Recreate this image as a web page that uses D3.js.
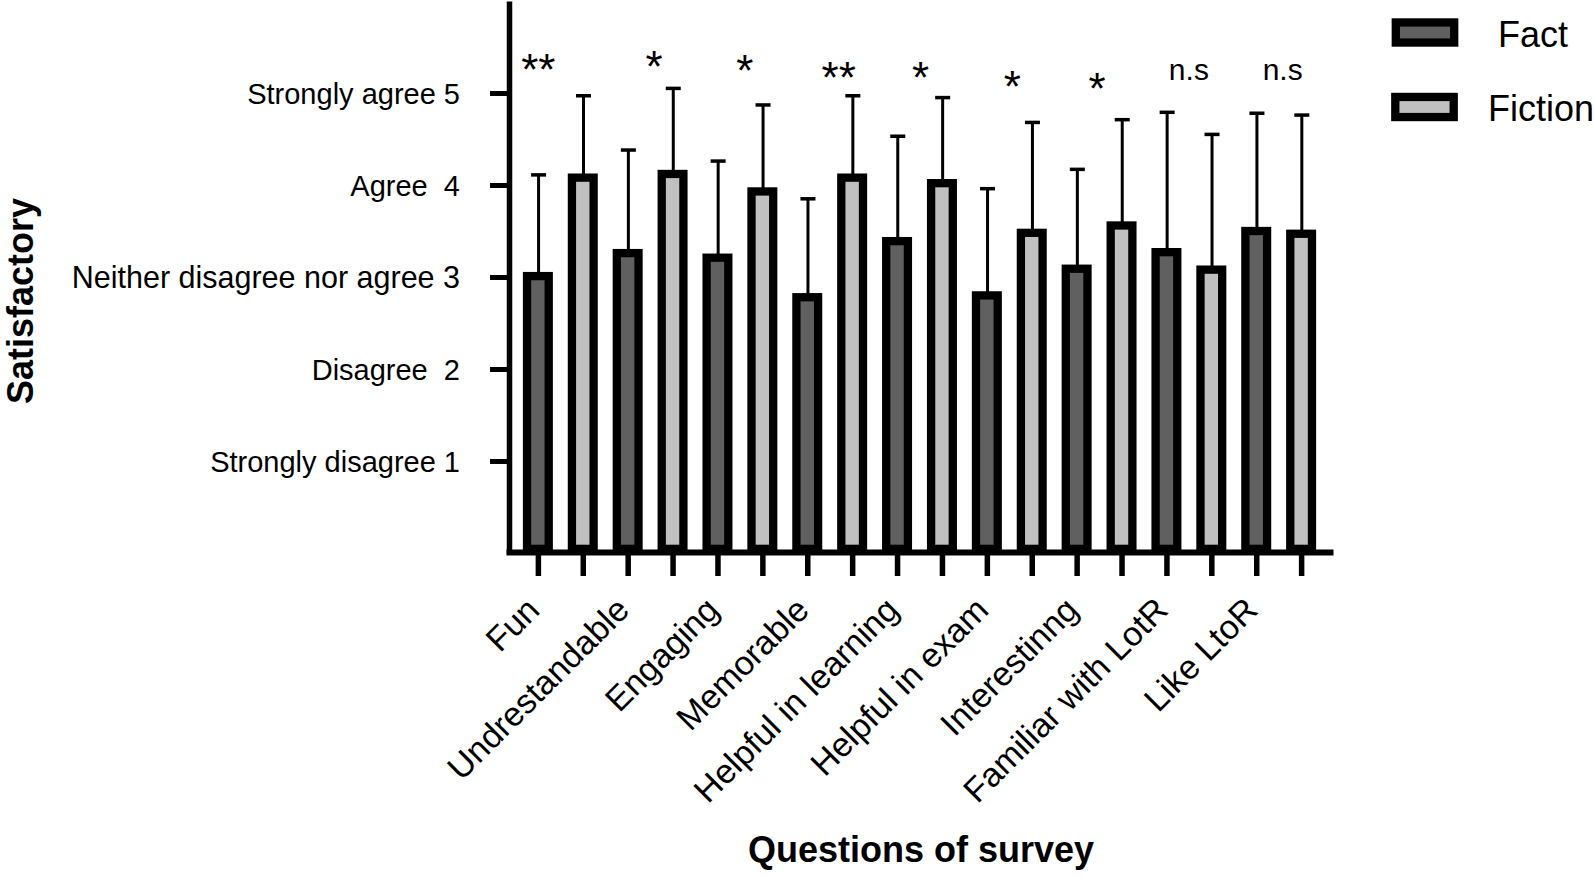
<!DOCTYPE html>
<html>
<head>
<meta charset="utf-8">
<script src="https://cdn.jsdelivr.net/npm/d3@7"></script>
<style>
  html, body { margin: 0; padding: 0; background: #fff; }
  svg { display: block; }
  text { font-family: "Liberation Sans", Arial, sans-serif; fill: #000; }
</style>
</head>
<body>
<svg id="chart" width="1594" height="878"></svg>
<script>
// ---- data ----
const categories = ["Fun", "Undrestandable", "Engaging", "Memorable", "Helpful in learning",
                    "Helpful in exam", "Interestinng", "Familiar with LotR", "Like LtoR"];
const series = ["Fact", "Fiction"];
const factMean    = [3.01, 3.26, 3.21, 2.78, 3.39, 2.80, 3.09, 3.27, 3.50];
const factSD      = [1.10, 1.12, 1.05, 1.07, 1.14, 1.16, 1.08, 1.52, 1.28];
const fictionMean = [4.08, 4.12, 3.93, 4.08, 4.02, 3.48, 3.56, 3.08, 3.47];
const fictionSD   = [0.89, 0.93, 0.94, 0.89, 0.93, 1.20, 1.15, 1.47, 1.29];
const sigLabels   = ["**", "*", "*", "**", "*", "*", "*", "n.s", "n.s"];
const sigLevel    = [5.30, 5.335, 5.29, 5.217, 5.214, 5.117, 5.092, 5.226, 5.226];
const yTickValues = [1, 2, 3, 4, 5];
const yTickLabels = ["Strongly disagree 1", "Disagree  2", "Neither disagree nor agree 3",
                     "Agree  4", "Strongly agree 5"];
const yTitle = "Satisfactory";
const xTitle = "Questions of survey";

// ---- layout ----
const sigOffsetPx = [-22, 4, 5, 9, 1, 3, -2, 0, 4];
const yTickFontSize = [29, 29, 30.5, 29, 29];
const fills = { Fact: "#606060", Fiction: "#c0c0c0" };
const barStroke = 8.3, barOuterW = 30;

const svg = d3.select("#chart");

const keys = [];
categories.forEach(c => series.forEach(s => keys.push(c + "|" + s)));

const x = d3.scalePoint().domain(keys).range([506, 1333]).padding(0.71);
const y = d3.scaleLinear().domain([0, 6]).range([553, 1]);

const rows = [];
categories.forEach((c, i) => {
  rows.push({ cat: c, s: "Fact", mean: factMean[i], sd: factSD[i] });
  rows.push({ cat: c, s: "Fiction", mean: fictionMean[i], sd: fictionSD[i] });
});

// error bars
const eb = svg.append("g");
eb.selectAll("line.err").data(rows).join("line")
  .attr("x1", d => x(d.cat + "|" + d.s) + 0.7).attr("x2", d => x(d.cat + "|" + d.s) + 0.7)
  .attr("y1", d => y(d.mean)).attr("y2", d => y(d.mean + d.sd))
  .attr("stroke", "#000").attr("stroke-width", 3);
eb.selectAll("line.cap").data(rows).join("line")
  .attr("x1", d => x(d.cat + "|" + d.s) - 7.5 + 0.7).attr("x2", d => x(d.cat + "|" + d.s) + 7.5 + 0.7)
  .attr("y1", d => y(d.mean + d.sd)).attr("y2", d => y(d.mean + d.sd))
  .attr("stroke", "#000").attr("stroke-width", 3.5);

// bars
const innerW = barOuterW - barStroke;
svg.append("g").selectAll("rect").data(rows).join("rect")
  .attr("x", d => x(d.cat + "|" + d.s) - innerW / 2)
  .attr("width", innerW)
  .attr("y", d => y(d.mean))
  .attr("height", d => y(0) - y(d.mean) - barStroke / 2)
  .attr("fill", d => fills[d.s])
  .attr("stroke", "#000")
  .attr("stroke-width", barStroke);

// y axis
const yAxis = d3.axisLeft(y).tickValues(yTickValues)
  .tickFormat((d, i) => yTickLabels[i]).tickSize(19).tickPadding(30).tickSizeOuter(0);
const gy = svg.append("g").attr("transform", "translate(509,0)").call(yAxis);
gy.select(".domain").attr("stroke", "#000").attr("stroke-width", 5.5);
gy.selectAll(".tick line").attr("stroke", "#000").attr("stroke-width", 5);
gy.selectAll(".tick text").attr("font-size", (d, i) => yTickFontSize[i]).attr("font-family", null)
  .style("white-space", "pre").attr("dy", "0.36em").attr("fill", "#000");

// x axis
const xAxis = d3.axisBottom(x).tickSize(24).tickSizeOuter(0)
  .tickFormat(k => k.endsWith("|Fact") ? k.split("|")[0] : "");
const gx = svg.append("g").attr("transform", "translate(0,552)").call(xAxis);
gx.select(".domain").attr("stroke", "#000").attr("stroke-width", 6);
gx.selectAll(".tick line").attr("stroke", "#000").attr("stroke-width", 5.5);
gx.selectAll(".tick text").attr("font-size", 34).attr("font-family", null)
  .attr("y", 0).attr("dy", 0).attr("text-anchor", "end")
  .attr("transform", "translate(3,60) rotate(-45)").attr("fill", "#000");

// significance labels
svg.append("g").selectAll("text").data(categories).join("text")
  .attr("x", (c, i) => (x(c + "|Fact") + x(c + "|Fiction")) / 2 + sigOffsetPx[i])
  .attr("y", (c, i) => y(sigLevel[i]))
  .attr("dy", (c, i) => sigLabels[i].startsWith("*") ? "0.45em" : "0.26em")
  .attr("text-anchor", "middle")
  .attr("font-size", (c, i) => sigLabels[i].startsWith("*") ? 44 : 30)
  .text((c, i) => sigLabels[i]);

// axis titles
svg.append("text").attr("transform", "translate(33,301) rotate(-90)")
  .attr("text-anchor", "middle").attr("font-size", 36).attr("font-weight", "bold")
  .text(yTitle);
svg.append("text").attr("x", 921).attr("y", 862)
  .attr("text-anchor", "middle").attr("font-size", 36).attr("font-weight", "bold")
  .text(xTitle);

// legend
const legendPos = [{ cx: 1425, cy: 32.5, tx: 1498, ty: 46.5 },
                   { cx: 1424.5, cy: 107, tx: 1488, ty: 121 }];
const lg = svg.append("g");
series.forEach((s, i) => {
  const p = legendPos[i];
  lg.append("rect").attr("x", p.cx - 29.2).attr("y", p.cy - 10.05)
    .attr("width", 58.4).attr("height", 20.1)
    .attr("fill", fills[s]).attr("stroke", "#000").attr("stroke-width", barStroke);
  lg.append("text").attr("x", p.tx).attr("y", p.ty).attr("font-size", 36).text(s);
});
</script>
</body>
</html>
